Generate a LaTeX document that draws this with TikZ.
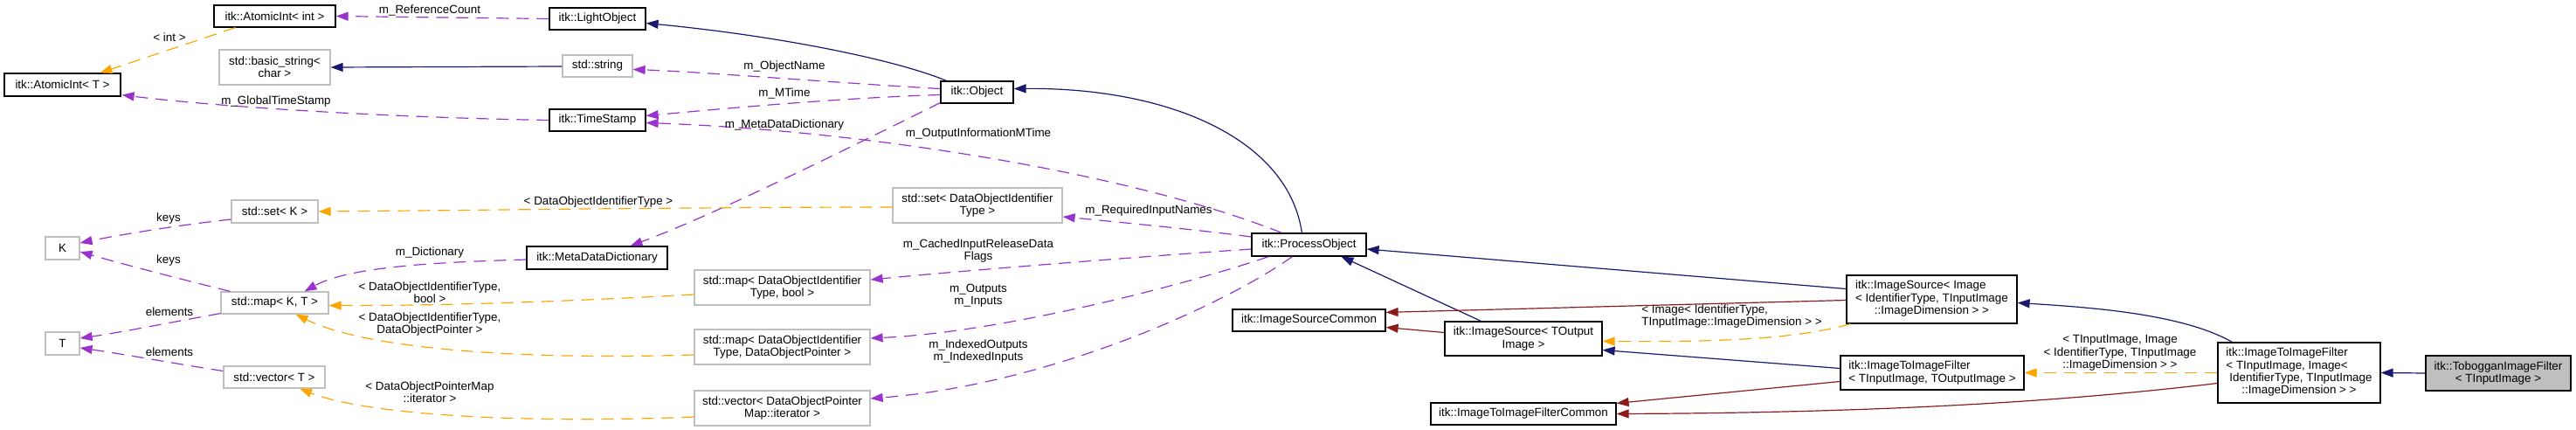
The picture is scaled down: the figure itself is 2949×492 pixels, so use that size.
\documentclass[tikz,border=0pt]{standalone}
\usepackage{fontspec}
\setmainfont{Liberation Sans}
\usetikzlibrary{arrows.meta,calc}
\definecolor{dblue}{HTML}{191970}
\definecolor{dpurple}{HTML}{9A32CD}
\definecolor{dorange}{HTML}{FFA500}
\definecolor{dred}{HTML}{8B1A1A}
\definecolor{dgray}{HTML}{BFBFBF}
\begin{document}
\begin{tikzpicture}[x=0.5pt,y=-0.5pt,
  every node/.style={font=\fontsize{6.7}{7.2}\selectfont, inner sep=0pt},
  cls/.style={draw=black, line width=0.6pt, rectangle, align=center, fill=white},
  ext/.style={draw=dgray, line width=0.6pt, rectangle, align=center, fill=white},
  sz/.style 2 args={minimum width=#1*0.5pt, minimum height=#2*0.5pt},
  lbl/.style={align=center},
  conn/.style={line width=0.6pt, -{Triangle[length=7pt,width=5pt]}},
  cinh/.style={conn, draw=dblue},
  cpriv/.style={conn, draw=dred},
  cuse/.style={conn, draw=dpurple, dash pattern=on 7pt off 4.5pt},
  ctmpl/.style={conn, draw=dorange, dash pattern=on 7pt off 4.5pt},
]
\useasboundingbox (0,0) rectangle (2949,492);

% nodes
\node[cls,sz={139}{25}] (A1) at (314.5,18.5) {itk::AtomicInt< int >};
\node[cls,sz={110}{25}] (LO) at (684,21.5) {itk::LightObject};
\node[ext,sz={127}{40}] (BS) at (314.5,77) {std::basic\_string<\\char >};
\node[ext,sz={80}{25}] (SS) at (684,75.5) {std::string};
\node[cls,sz={133}{26}] (AT) at (71.5,97) {itk::AtomicInt< T >};
\node[cls,sz={110}{25}] (TS) at (684,137.5) {itk::TimeStamp};
\node[cls,sz={83}{25}] (OB) at (1118.5,105.5) {itk::Object};
\node[ext,sz={194}{40}] (SDOI) at (1119,235) {std::set< DataObjectIdentifier\\Type >};
\node[ext,sz={99}{26}] (SK) at (314.5,242) {std::set< K >};
\node[ext,sz={39}{26}] (K) at (71.5,284) {K};
\node[cls,sz={161}{26}] (MDD) at (683.5,295) {itk::MetaDataDictionary};
\node[ext,sz={123}{25}] (MKT) at (314.5,346.5) {std::map< K, T >};
\node[ext,sz={39}{26}] (T) at (71.5,393) {T};
\node[ext,sz={116}{25}] (VT) at (314,431.5) {std::vector< T >};
\node[ext,sz={201}{40}] (MDB) at (895.5,329) {std::map< DataObjectIdentifier\\Type, bool >};
\node[ext,sz={201}{40}] (MDP) at (895.5,397) {std::map< DataObjectIdentifier\\Type, DataObjectPointer >};
\node[ext,sz={201}{40}] (VDP) at (895.5,467) {std::vector< DataObjectPointer\\Map::iterator >};
\node[cls,sz={131}{26}] (PO) at (1498.5,280) {itk::ProcessObject};
\node[cls,sz={175}{25}] (ISC) at (1498.5,366.5) {itk::ImageSourceCommon};
\node[cls,sz={180}{39}] (IST) at (1744,387.5) {itk::ImageSource< TOutput\\Image >};
\node[cls,sz={195}{55}] (ISI) at (2211.5,342.5) {\begin{tabular}{@{}l@{}}itk::ImageSource< Image\\< IdentifierType, TInputImage\\\multicolumn{1}{@{}c@{}}{::ImageDimension > >}\end{tabular}};
\node[cls,sz={210}{39},align=left] (IFT) at (2212,426.5) {itk::ImageToImageFilter\\< TInputImage, TOutputImage >};
\node[cls,sz={212}{25}] (IFC) at (1744,473.5) {itk::ImageToImageFilterCommon};
\node[cls,sz={186}{69}] (IFI) at (2632,426.5) {\begin{tabular}{@{}l@{}}itk::ImageToImageFilter\\< TInputImage, Image<\\\hspace{2pt}IdentifierType, TInputImage\\\multicolumn{1}{@{}c@{}}{::ImageDimension > >}\end{tabular}};
\node[cls,sz={166}{40},fill=dgray] (TB) at (2860,427) {itk::TobogganImageFilter\\< TInputImage >};

% connectors
\draw[cuse] (LO.west) -- (A1.east);
\draw[ctmpl] ($(A1.south)+(-45,0)$) -- ($(AT.north)+(43,0)$);
\draw[cinh] ($(SS.west)+(0,0.5)$) -- (BS.east);
\draw[cuse] (TS.west) .. controls (420,134) and (230,120) .. ($(AT.south east)+(1,-2)$);
\draw[cinh] ($(OB.north west)+(7,0)$) .. controls (1030,70) and (900,42) .. ($(LO.east)+(0,5)$);
\draw[cuse] ($(OB.west)+(0,-4)$) .. controls (960,95) and (800,82) .. ($(SS.east)+(0,4)$);
\draw[cuse] ($(OB.west)+(0,3)$) .. controls (960,112) and (820,125) .. ($(TS.east)+(0,-5)$);
\draw[cuse] ($(OB.south west)+(0,-1)$) .. controls (980,165) and (820,245) .. ($(MDD.north)+(38,0)$);
\draw[cuse] ($(PO.north west)+(35,0)$) .. controls (1300,200) and (1000,150) .. ($(TS.east)+(0,3)$);
\draw[cinh] ($(PO.north west)+(58,0)$) .. controls (1475,160) and (1340,100) .. ($(OB.east)+(0,-4)$);
\draw[cuse] ($(PO.west)+(0,-9)$) .. controls (1380,264) and (1300,256) .. ($(SDOI.east)+(0,13)$);
\draw[cuse] ($(PO.west)+(0,5)$) .. controls (1300,294) and (1100,310) .. ($(MDB.east)+(0,-9)$);
\draw[cuse] ($(PO.south west)+(20,0)$) .. controls (1360,325) and (1150,380) .. ($(MDP.east)+(0,-10)$);
\draw[cuse] ($(PO.south west)+(47,0)$) .. controls (1400,350) and (1200,440) .. ($(VDP.east)+(0,-11)$);
\draw[ctmpl] ($(SDOI.west)+(0,2)$) .. controls (800,237) and (500,241) .. (SK.east);
\draw[cuse] ($(SK.west)+(0,9)$) .. controls (200,258) and (130,270) .. ($(K.east)+(0,-6)$);
\draw[cuse] ($(MKT.north west)+(11,0)$) .. controls (230,325) and (150,305) .. ($(K.east)+(0,4)$);
\draw[cuse] ($(MKT.south west)+(0,-1)$) .. controls (200,368) and (140,380) .. ($(T.east)+(0,-6)$);
\draw[cuse] ($(VT.west)+(0,-7)$) .. controls (200,416) and (140,405) .. ($(T.east)+(0,5)$);
\draw[cuse] ($(MDD.west)+(0,2)$) .. controls (500,300) and (400,305) .. ($(MKT.north)+(34,0)$);
\draw[ctmpl] ($(MDB.west)+(0,8)$) .. controls (650,345) and (500,350) .. ($(MKT.east)+(0,3)$);
\draw[ctmpl] ($(MDP.west)+(0,9)$) .. controls (600,412) and (420,400) .. ($(MKT.south)+(24,0)$);
\draw[ctmpl] ($(VDP.west)+(0,10)$) .. controls (600,485) and (420,475) .. ($(VT.south)+(29,0)$);
\draw[cinh] ($(ISI.west)+(0,-12)$) -- ($(PO.east)+(0,5)$);
\draw[cinh] ($(IST.north west)+(42,0)$) -- ($(PO.south)+(37,0)$);
\draw[cpriv] ($(ISI.west)+(0,1)$) -- ($(ISC.north east)+(0,4)$);
\draw[cpriv] ($(IST.west)+(0,-7)$) -- ($(ISC.east)+(0,8)$);
\draw[ctmpl] ($(ISI.south west)+(5,0)$) .. controls (2050,390) and (1950,391) .. ($(IST.east)+(0,3)$);
\draw[cinh] ($(IFT.west)+(0,-5)$) -- ($(IST.east)+(0,13)$);
\draw[cpriv] ($(IFT.west)+(0,10)$) -- ($(IFC.north east)+(0,1)$);
\draw[cpriv] ($(IFI.west)+(0,12)$) .. controls (2400,455) and (2200,472) .. (IFC.east);
\draw[cinh] ($(IFI.north west)+(17,0)$) .. controls (2500,360) and (2400,352) .. ($(ISI.east)+(0,4)$);
\draw[ctmpl] (IFI.west) -- (IFT.east);
\draw[cinh] (TB.west) -- (IFI.east);

% labels
\node[lbl] (l1) at (492,12) {m\_ReferenceCount};
\node[lbl] (l2) at (194,43) {< int >};
\node[lbl] (l3) at (316,116) {m\_GlobalTimeStamp};
\node[lbl] (l4) at (898,76) {m\_ObjectName};
\node[lbl] (l5) at (898,107) {m\_MTime};
\node[lbl] (l6) at (898,143) {m\_MetaDataDictionary};
\node[lbl] (l7) at (1120,153) {m\_OutputInformationMTime};
\node[lbl] (l8) at (1315,241) {m\_RequiredInputNames};
\node[lbl] (l9) at (685,231) {< DataObjectIdentifierType >};
\node[lbl] (l10) at (193,250) {keys};
\node[lbl] (l11) at (193,298) {keys};
\node[lbl] (l12) at (492,289) {m\_Dictionary};
\node[lbl] (l13) at (492,335) {< DataObjectIdentifierType,\\bool >};
\node[lbl] (l14) at (194,357) {elements};
\node[lbl] (l15) at (492,371) {< DataObjectIdentifierType,\\DataObjectPointer >};
\node[lbl] (l16) at (194,403) {elements};
\node[lbl] (l17) at (492,449) {< DataObjectPointerMap\\::iterator >};
\node[lbl] (l18) at (1120,287) {m\_CachedInputReleaseData\\Flags};
\node[lbl] (l19) at (1120,338) {m\_Outputs\\m\_Inputs};
\node[lbl] (l20) at (1120,402) {m\_IndexedOutputs\\m\_IndexedInputs};
\node[lbl,align=left,anchor=west] (l21) at (1879,362) {< Image< IdentifierType,\\TInputImage::ImageDimension > >};
\node[lbl] (l22) at (2427,404) {< TInputImage, Image\\< IdentifierType, TInputImage\\::ImageDimension > >};
\end{tikzpicture}
\end{document}
